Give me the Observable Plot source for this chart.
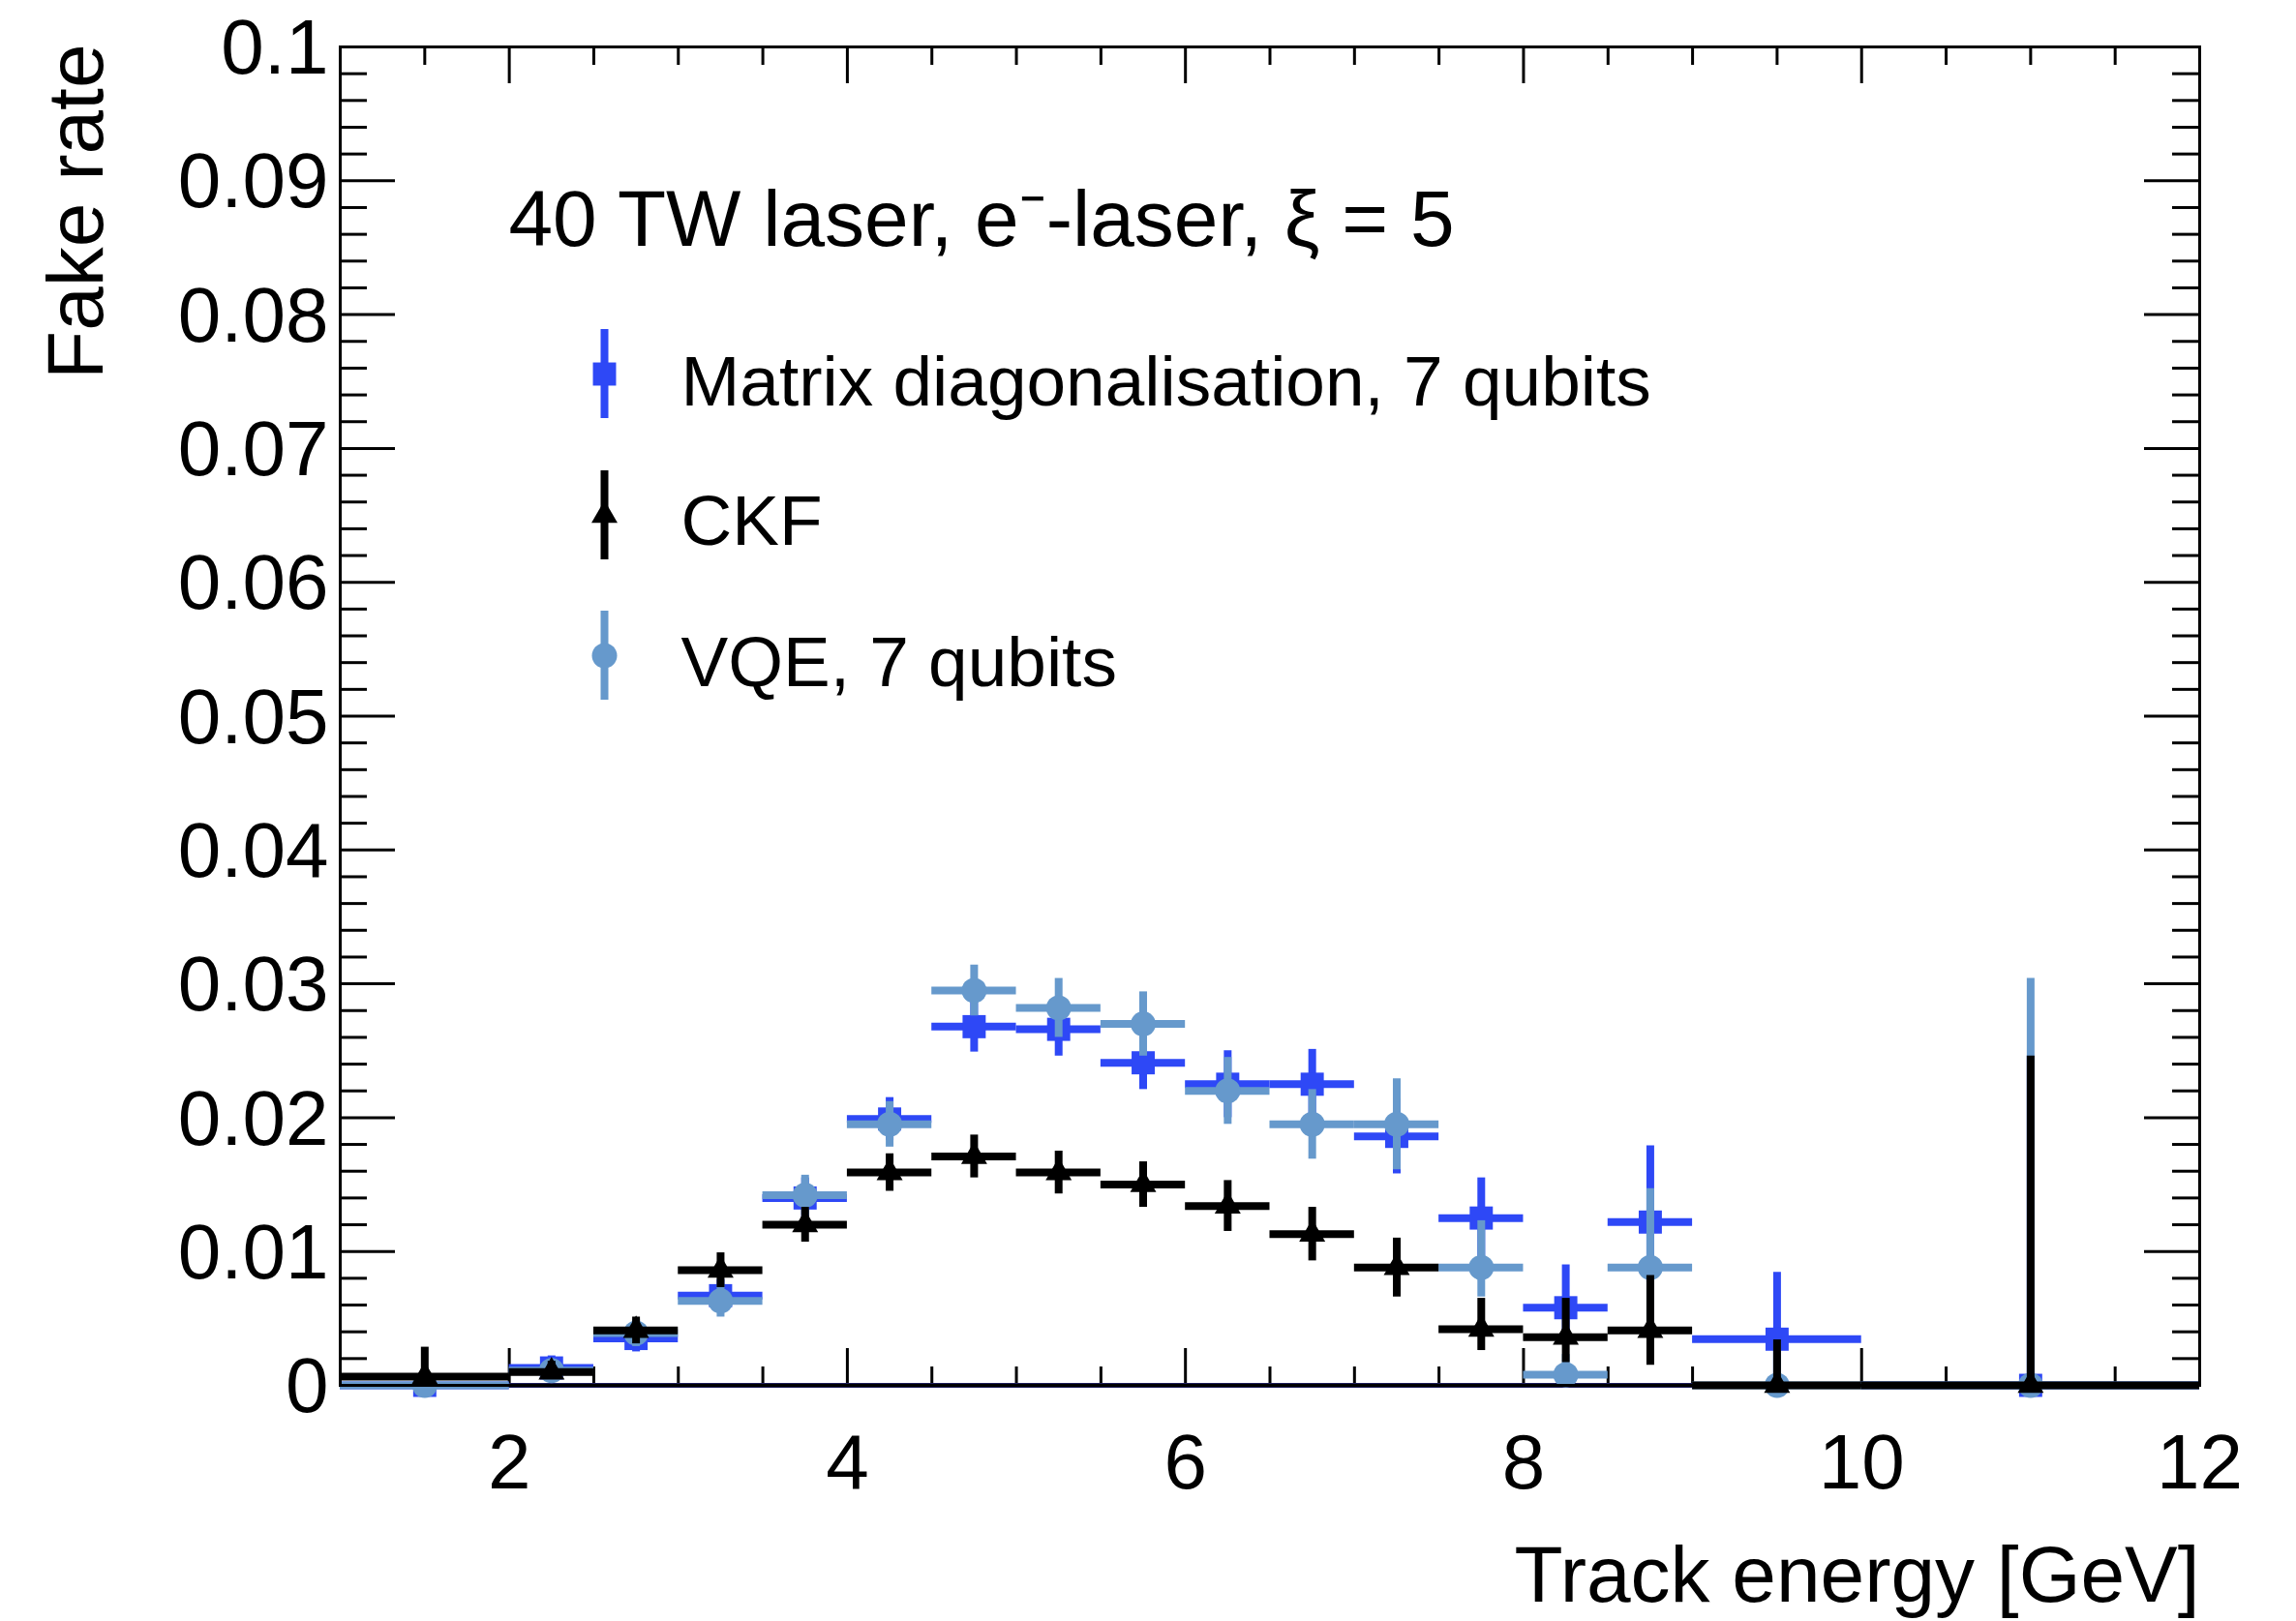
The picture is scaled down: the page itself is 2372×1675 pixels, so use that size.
<!DOCTYPE html>
<html><head><meta charset="utf-8">
<script src="https://cdn.jsdelivr.net/npm/d3@7"></script>
<script src="https://cdn.jsdelivr.net/npm/@observablehq/plot@0.6"></script>
<style>body{margin:0;background:#fff}#chart svg{display:block}</style>
</head><body><div id="chart"></div>
<script>
// ---- data ----
const binCenters = [1.5, 2.25, 2.75, 3.25, 3.75, 4.25, 4.75, 5.25, 5.75, 6.25, 6.75, 7.25, 7.75, 8.25, 8.75, 9.5, 11];
const binLow     = [1,   2,    2.5,  3,    3.5,  4,    4.5,  5,    5.5,  6,    6.5,  7,    7.5,  8,    8.5,  9,   10];
const binHigh    = [2,   2.5,  3,    3.5,  4,    4.5,  5,    5.5,  6,    6.5,  7,    7.5,  8,    8.5,  9,    10,  12];

const matrixValues = [0, 0.0013, 0.0035, 0.0067, 0.0140, 0.0199, 0.0268, 0.0266, 0.0241, 0.0225, 0.0225, 0.0186, 0.0125, 0.0058, 0.0122, 0.00345, 0];
const matrixErrLow = [0, 0.0006, 0.0010, 0.0012, 0.0015, 0.0016, 0.0019, 0.0020, 0.0020, 0.0025, 0.0026, 0.0028, 0.0030, 0.0022, 0.0045, 0.0028, 0];
const matrixErrHigh= [0.0008, 0.0009, 0.0010, 0.0012, 0.0015, 0.0016, 0.0019, 0.0020, 0.0020, 0.0025, 0.0026, 0.0028, 0.0030, 0.0032, 0.0057, 0.0050, 0.0246];

const ckfValues  = [0.00065, 0.0010, 0.0041, 0.0086, 0.0120, 0.0159, 0.0171, 0.0159, 0.0150, 0.0134, 0.0113, 0.0088, 0.0042, 0.0036, 0.0041, 0, 0];
const ckfErrLow  = [0.0006, 0.0005, 0.0010, 0.0013, 0.0013, 0.0014, 0.0016, 0.0016, 0.0017, 0.0019, 0.0020, 0.0022, 0.0016, 0.0019, 0.0026, 0, 0];
const ckfErrHigh = [0.0022, 0.0008, 0.0010, 0.0013, 0.0013, 0.0014, 0.0016, 0.0016, 0.0017, 0.0019, 0.0020, 0.0022, 0.0023, 0.0029, 0.0041, 0.0034, 0.0246];

const vqeValues  = [0, 0.0011, 0.0039, 0.0063, 0.0142, 0.0195, 0.0295, 0.0282, 0.0270, 0.0220, 0.0195, 0.0195, 0.0088, 0.0008, 0.0088, 0, 0];
const vqeErrLow  = [0, 0.0007, 0.0010, 0.0012, 0.0015, 0.0017, 0.0019, 0.0022, 0.0024, 0.0025, 0.0026, 0.0034, 0.0022, 0.0006, 0.0040, 0, 0];
const vqeErrHigh = [0.0005, 0.0007, 0.0010, 0.0012, 0.0015, 0.0017, 0.0019, 0.0022, 0.0024, 0.0025, 0.0026, 0.0034, 0.0035, 0.0015, 0.0059, 0.0034, 0.0304];

const seriesNames = ["Matrix diagonalisation, 7 qubits", "CKF", "VQE, 7 qubits"];
const xTickValues = [2, 4, 6, 8, 10, 12];
const xTickLabels = ["2", "4", "6", "8", "10", "12"];
const yTickValues = [0, 0.01, 0.02, 0.03, 0.04, 0.05, 0.06, 0.07, 0.08, 0.09, 0.1];
const yTickLabels = ["0", "0.01", "0.02", "0.03", "0.04", "0.05", "0.06", "0.07", "0.08", "0.09", "0.1"];
const titleText = "40 TW laser, e\u207B-laser, \u03BE = 5";
const xAxisTitle = "Track energy [GeV]";
const yAxisTitle = "Fake rate";

// ---- layout / style ----
const W = 2372, H = 1675, mL = 351, mR = 100, mT = 48, mB = 244;
const pw = W - mL - mR, ph = H - mT - mB;
const xDom = [1, 12], yDom = [0, 0.1];
const dxPx = p => (xDom[1] - xDom[0]) * p / pw;
const dyPx = p => (yDom[1] - yDom[0]) * p / ph;
const xAt = p => xDom[0] + dxPx(p - mL);
const yAt = p => yDom[0] + dyPx(mT + ph - p);
const FONT = "'Liberation Sans', Arial, Helvetica, sans-serif";
const colors = {matrix: "#2e48f6", ckf: "#000000", vqe: "#6699cc"};

function rows(vals, lo, hi) {
  return binCenters.map((c, i) => ({x: c, xl: binLow[i], xh: binHigh[i], y: vals[i], yl: vals[i] - lo[i], yh: vals[i] + hi[i]}));
}
const matrixRows = rows(matrixValues, matrixErrLow, matrixErrHigh);
const ckfRows = rows(ckfValues, ckfErrLow, ckfErrHigh);
const vqeRows = rows(vqeValues, vqeErrLow, vqeErrHigh);

// ticks
const xMinor = d3.range(1.5, 12, 0.5).filter(v => v % 2 !== 0);
const xMajor = [2, 4, 6, 8, 10];
const yMinor = d3.range(1, 50).map(i => i * 0.002).filter(v => Math.abs(v * 100 - Math.round(v * 100)) > 1e-6);
const yMajor = yTickValues.slice(1, -1);
const xMajLen = dyPx(38), xMinLen = dyPx(19), yMajLen = dxPx(57), yMinLen = dxPx(28);
const tickStyle = {stroke: "black", strokeWidth: 3};

function seriesMarks(data, color, symbol, r) {
  return [
    Plot.ruleY(data, {y: "y", x1: "xl", x2: "xh", stroke: color, strokeWidth: 8}),
    Plot.ruleX(data, {x: "x", y1: "yl", y2: "yh", stroke: color, strokeWidth: 8}),
    Plot.dot(data, {x: "x", y: "y", symbol, r, fill: color, stroke: "none"})
  ];
}

// legend
const legendX = xAt(624);
const legendYs = [386, 532, 677];
const legendTextYs = [395, 539, 685];
const legendSymbols = [["square", 13.5, colors.matrix], ["triangle", 10, colors.ckf], ["circle", 13, colors.vqe]];
const legendRows = seriesNames.map((name, i) => ({
  name, x: legendX, y: yAt(legendYs[i]), y1: yAt(legendYs[i] - 46), y2: yAt(legendYs[i] + 46),
  ty: yAt(legendTextYs[i]), sym: legendSymbols[i][0], r: legendSymbols[i][1], color: legendSymbols[i][2]
}));

const chart = Plot.plot({
  width: W, height: H,
  marginLeft: mL, marginRight: mR, marginTop: mT, marginBottom: mB,
  x: {domain: xDom, axis: null},
  y: {domain: yDom, axis: null},
  style: {fontFamily: FONT, background: "white", overflow: "visible"},
  marks: [
    // ticks on four sides
    Plot.ruleX(xMajor, {x: d => d, y1: 0, y2: xMajLen, ...tickStyle}),
    Plot.ruleX(xMinor, {x: d => d, y1: 0, y2: xMinLen, ...tickStyle}),
    Plot.ruleX(xMajor, {x: d => d, y1: 0.1, y2: 0.1 - xMajLen, ...tickStyle}),
    Plot.ruleX(xMinor, {x: d => d, y1: 0.1, y2: 0.1 - xMinLen, ...tickStyle}),
    Plot.ruleY(yMajor, {y: d => d, x1: 1, x2: 1 + yMajLen, ...tickStyle}),
    Plot.ruleY(yMinor, {y: d => d, x1: 1, x2: 1 + yMinLen, ...tickStyle}),
    Plot.ruleY(yMajor, {y: d => d, x1: 12, x2: 12 - yMajLen, ...tickStyle}),
    Plot.ruleY(yMinor, {y: d => d, x1: 12, x2: 12 - yMinLen, ...tickStyle}),
    // zero line
    Plot.ruleY([0], {x1: 1, x2: 12, stroke: "#1d1d5a", strokeWidth: 5}),
    // series
    ...seriesMarks(matrixRows, colors.matrix, "square", 13.5),
    ...seriesMarks(vqeRows, colors.vqe, "circle", 13),
    ...seriesMarks(ckfRows, colors.ckf, "triangle", 10),
    // frame
    Plot.frame({stroke: "black", strokeWidth: 3}),
    // tick labels
    Plot.text(xTickValues, {x: d => d, y: 0, text: (d, i) => xTickLabels[i], dy: 81, fontSize: 80, fill: "black", textAnchor: "middle", lineAnchor: "middle"}),
    Plot.text(yTickValues, {x: 1, y: d => d, text: (d, i) => yTickLabels[i], dx: -12, dy: 2, fontSize: 80, fill: "black", textAnchor: "end", lineAnchor: "middle"}),
    // axis titles
    Plot.text([xAxisTitle], {frameAnchor: "bottom-right", text: d => d, textAnchor: "end", lineAnchor: "middle", dy: 197, fontSize: 82, fill: "black"}),
    Plot.text([yAxisTitle], {frameAnchor: "top-left", text: d => d, rotate: -90, textAnchor: "end", lineAnchor: "middle", dx: -272, dy: -3, fontSize: 82, fill: "black"}),
    // in-plot title
    Plot.text([titleText], {frameAnchor: "top-left", text: d => d, textAnchor: "start", lineAnchor: "middle", dx: 174, dy: 179, fontSize: 82, fill: "black"}),
    // legend
    Plot.ruleX(legendRows, {x: "x", y1: "y1", y2: "y2", stroke: "color", strokeWidth: 8}),
    Plot.dot(legendRows.slice(0, 1), {x: "x", y: "y", symbol: "square", r: 13.5, fill: colors.matrix, stroke: "none"}),
    Plot.dot(legendRows.slice(1, 2), {x: "x", y: "y", symbol: "triangle", r: 10, fill: colors.ckf, stroke: "none"}),
    Plot.dot(legendRows.slice(2, 3), {x: "x", y: "y", symbol: "circle", r: 13, fill: colors.vqe, stroke: "none"}),
    Plot.text(legendRows, {x: "x", y: "ty", text: "name", dx: 79, textAnchor: "start", lineAnchor: "middle", fontSize: 73, fill: "black"})
  ]
});
document.getElementById("chart").append(chart);
</script>
</body></html>
